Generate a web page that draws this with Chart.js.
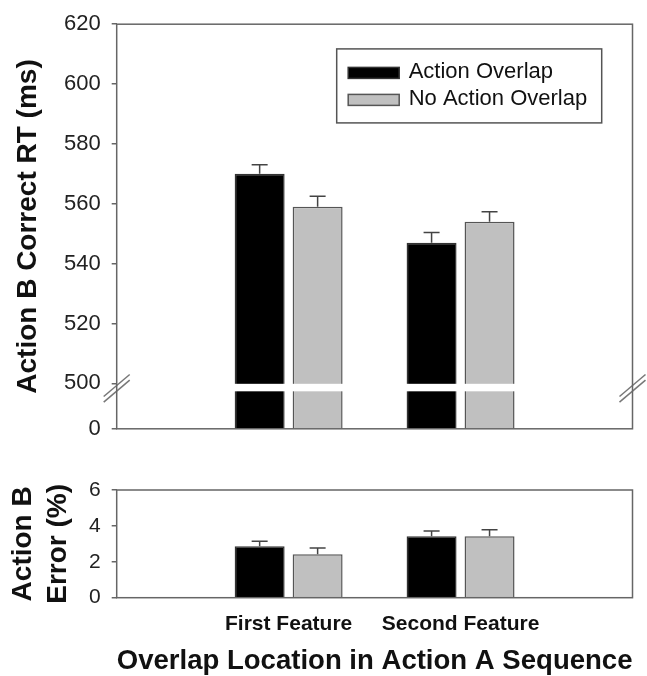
<!DOCTYPE html>
<html>
<head>
<meta charset="utf-8">
<script src="https://cdn.jsdelivr.net/npm/chart.js@4.4.1/dist/chart.umd.min.js"></script>
<style>
  html, body { margin: 0; padding: 0; background: #fff; overflow: hidden; }
  #wrap { position: relative; width: 647px; height: 676px; }
  #rtBox { position: absolute; left: 0; top: 0; width: 647px; height: 453px; }
  #errBox { position: absolute; left: 0; top: 450px; width: 647px; height: 228px; }
</style>
</head>
<body>
<div id="wrap">
  <div id="rtBox"><canvas id="rtChart"></canvas></div>
  <div id="errBox"><canvas id="errChart"></canvas></div>
</div>
<script>
var CATEGORIES = ['First Feature', 'Second Feature'];
var SERIES = ['Action Overlap', 'No Action Overlap'];

// correct RT (ms) and standard errors
var RT_OVERLAP = [570, 547];
var RT_NO_OVERLAP = [559, 554];
var RT_SE_OVERLAP = [3.0, 3.4];
var RT_SE_NO_OVERLAP = [3.5, 3.3];

// error rate (%) and standard errors
var ERR_OVERLAP = [2.86, 3.42];
var ERR_NO_OVERLAP = [2.42, 3.42];
var ERR_SE_OVERLAP = [0.28, 0.30];
var ERR_SE_NO_OVERLAP = [0.35, 0.37];

var RT_TICKS = [0, 500, 520, 540, 560, 580, 600, 620];
var ERR_TICKS = [0, 2, 4, 6];

var RT_BREAK_AT = 500;     // axis is broken just below this value
var RT_AXIS_FLOOR = 484.8; // value position where the "0" tick sits

var FONT = '"Liberation Sans", Arial, Helvetica, sans-serif';
var AXIS_COLOR = '#666';
var BLACK = '#000000';
var GRAY = '#c0c0c0';

Chart.defaults.font.family = FONT;

// pad with empty slots so the two groups sit at 1/3 and 2/3 of the width
function pad(arr) { return [null].concat(arr, [null]); }
var LABELS = [''].concat(CATEGORIES, ['']);

var errorBarPlugin = {
  id: 'errorBars',
  afterDatasetsDraw: function (chart) {
    var ctx = chart.ctx, yScale = chart.scales.y;
    ctx.save();
    ctx.strokeStyle = '#444';
    ctx.lineWidth = 1.5;
    chart.data.datasets.forEach(function (ds, i) {
      var meta = chart.getDatasetMeta(i);
      meta.data.forEach(function (bar, j) {
        var v = ds.data[j], e = ds.errors[j];
        if (v == null || e == null) return;
        var top = yScale.getPixelForValue(v + e);
        ctx.beginPath();
        ctx.moveTo(bar.x, bar.y);
        ctx.lineTo(bar.x, top);
        ctx.moveTo(bar.x - 8, top);
        ctx.lineTo(bar.x + 8, top);
        ctx.stroke();
      });
    });
    ctx.restore();
  }
};

var scaleBreakPlugin = {
  id: 'scaleBreak',
  afterDatasetsDraw: function (chart, args, opts) {
    if (!opts.display) return;
    var a = chart.chartArea, ctx = chart.ctx;
    var y0 = chart.scales.y.getPixelForValue(opts.value);
    ctx.save();
    ctx.fillStyle = '#fff';
    ctx.fillRect(a.left + 1, y0 + 0.5, a.right - a.left - 2, 7.5);
    ctx.restore();
  },
  afterDraw: function (chart, args, opts) {
    if (!opts.display) return;
    var a = chart.chartArea, ctx = chart.ctx;
    var cy = chart.scales.y.getPixelForValue(opts.value) + 5;
    ctx.save();
    ctx.strokeStyle = '#777';
    ctx.lineWidth = 1.5;
    [a.left, a.right].forEach(function (cx) {
      [-2.8, 2.8].forEach(function (off) {
        ctx.beginPath();
        ctx.moveTo(cx - 13, cy + off + 11);
        ctx.lineTo(cx + 13, cy + off - 11);
        ctx.stroke();
      });
    });
    ctx.restore();
  }
};

var framePlugin = {
  id: 'frame',
  afterDraw: function (chart) {
    var a = chart.chartArea, ctx = chart.ctx;
    ctx.save();
    ctx.strokeStyle = AXIS_COLOR;
    ctx.lineWidth = 1.5;
    ctx.strokeRect(a.left, a.top, a.right - a.left, a.bottom - a.top);
    ctx.restore();
  }
};

var boxLegendPlugin = {
  id: 'boxLegend',
  afterDraw: function (chart, args, opts) {
    if (!opts.display) return;
    var a = chart.chartArea, ctx = chart.ctx;
    var x = a.left + opts.x, y = a.top + opts.y;
    ctx.save();
    ctx.fillStyle = '#fff';
    ctx.fillRect(x, y, opts.width, opts.height);
    ctx.strokeStyle = '#555';
    ctx.lineWidth = 1.5;
    ctx.strokeRect(x, y, opts.width, opts.height);
    ctx.font = '22px ' + FONT;
    ctx.textBaseline = 'middle';
    chart.data.datasets.forEach(function (ds, i) {
      var cy = y + 24 + i * 27;
      ctx.fillStyle = ds.backgroundColor;
      ctx.fillRect(x + 11.5, cy - 5.5, 51, 11);
      ctx.strokeStyle = ds.borderColor;
      ctx.strokeRect(x + 11.5, cy - 5.5, 51, 11);
      ctx.fillStyle = '#111';
      ctx.fillText(ds.label, x + 72, cy - 0.5);
    });
    ctx.restore();
  }
};

function barDatasets(a, b, seA, seB) {
  return [
    { label: SERIES[0], data: pad(a), errors: pad(seA),
      backgroundColor: BLACK, borderColor: '#333', borderWidth: 1.5,
      categoryPercentage: 0.6744, barPercentage: 0.862 },
    { label: SERIES[1], data: pad(b), errors: pad(seB),
      backgroundColor: GRAY, borderColor: '#555', borderWidth: 1.5,
      categoryPercentage: 0.6744, barPercentage: 0.862 }
  ];
}

var plugins = [errorBarPlugin, scaleBreakPlugin, framePlugin, boxLegendPlugin];

new Chart(document.getElementById('rtChart'), {
  type: 'bar',
  data: { labels: LABELS, datasets: barDatasets(RT_OVERLAP, RT_NO_OVERLAP, RT_SE_OVERLAP, RT_SE_NO_OVERLAP) },
  plugins: plugins,
  options: {
    responsive: true,
    maintainAspectRatio: false,
    animation: false,
    layout: { padding: { top: 22, right: 14.5, bottom: 18, left: 0 } },
    plugins: {
      legend: { display: false },
      tooltip: { enabled: false },
      scaleBreak: { display: true, value: RT_BREAK_AT },
      boxLegend: { display: true, x: 220, y: 24.7, width: 265, height: 74 }
    },
    scales: {
      x: { type: 'category', display: false, offset: false },
      y: {
        min: RT_AXIS_FLOOR,
        max: 620,
        afterBuildTicks: function (s) {
          s.ticks = RT_TICKS.map(function (v) { return { value: v === 0 ? RT_AXIS_FLOOR : v }; });
        },
        afterFit: function (s) { s.width = 116.7; },
        ticks: {
          font: { size: 22 }, color: '#222', padding: 11,
          callback: function (v) { return v === RT_AXIS_FLOOR ? '0' : v; }
        },
        grid: { drawOnChartArea: false, tickLength: 5, color: AXIS_COLOR, lineWidth: 1.5 },
        border: { display: false },
        title: {
          display: true, text: 'Action B Correct RT (ms)', color: '#111',
          font: { size: 28, weight: 'bold' }, padding: { top: 11, bottom: 0 }
        }
      }
    }
  }
});

new Chart(document.getElementById('errChart'), {
  type: 'bar',
  data: { labels: LABELS, datasets: barDatasets(ERR_OVERLAP, ERR_NO_OVERLAP, ERR_SE_OVERLAP, ERR_SE_NO_OVERLAP) },
  plugins: plugins,
  options: {
    responsive: true,
    maintainAspectRatio: false,
    animation: false,
    layout: { padding: { top: 40, right: 14.5, bottom: 0, left: 0 } },
    plugins: {
      legend: { display: false },
      tooltip: { enabled: false },
      scaleBreak: { display: false },
      boxLegend: { display: false }
    },
    scales: {
      x: {
        type: 'category', offset: false,
        afterFit: function (s) { s.height = 80.3; },
        grid: { display: false, drawTicks: false },
        border: { display: false },
        ticks: { font: { size: 21, weight: 'bold' }, color: '#111', padding: 14, autoSkip: false, maxRotation: 0 },
        title: {
          display: true, text: 'Overlap Location in Action A Sequence', color: '#111',
          font: { size: 28, weight: 'bold' }, padding: 0
        }
      },
      y: {
        min: 0,
        max: 6,
        afterBuildTicks: function (s) {
          s.ticks = ERR_TICKS.map(function (v) { return { value: v }; });
        },
        afterFit: function (s) { s.width = 116.7; },
        ticks: { font: { size: 21 }, color: '#222', padding: 11 },
        grid: { drawOnChartArea: false, tickLength: 5, color: AXIS_COLOR, lineWidth: 1.5 },
        border: { display: false },
        title: {
          display: true, text: ['Action B', 'Error (%)'], color: '#111',
          font: { size: 28, weight: 'bold', lineHeight: 1.25 }, padding: { top: 6, bottom: 0 }
        }
      }
    }
  }
});
</script>
</body>
</html>
